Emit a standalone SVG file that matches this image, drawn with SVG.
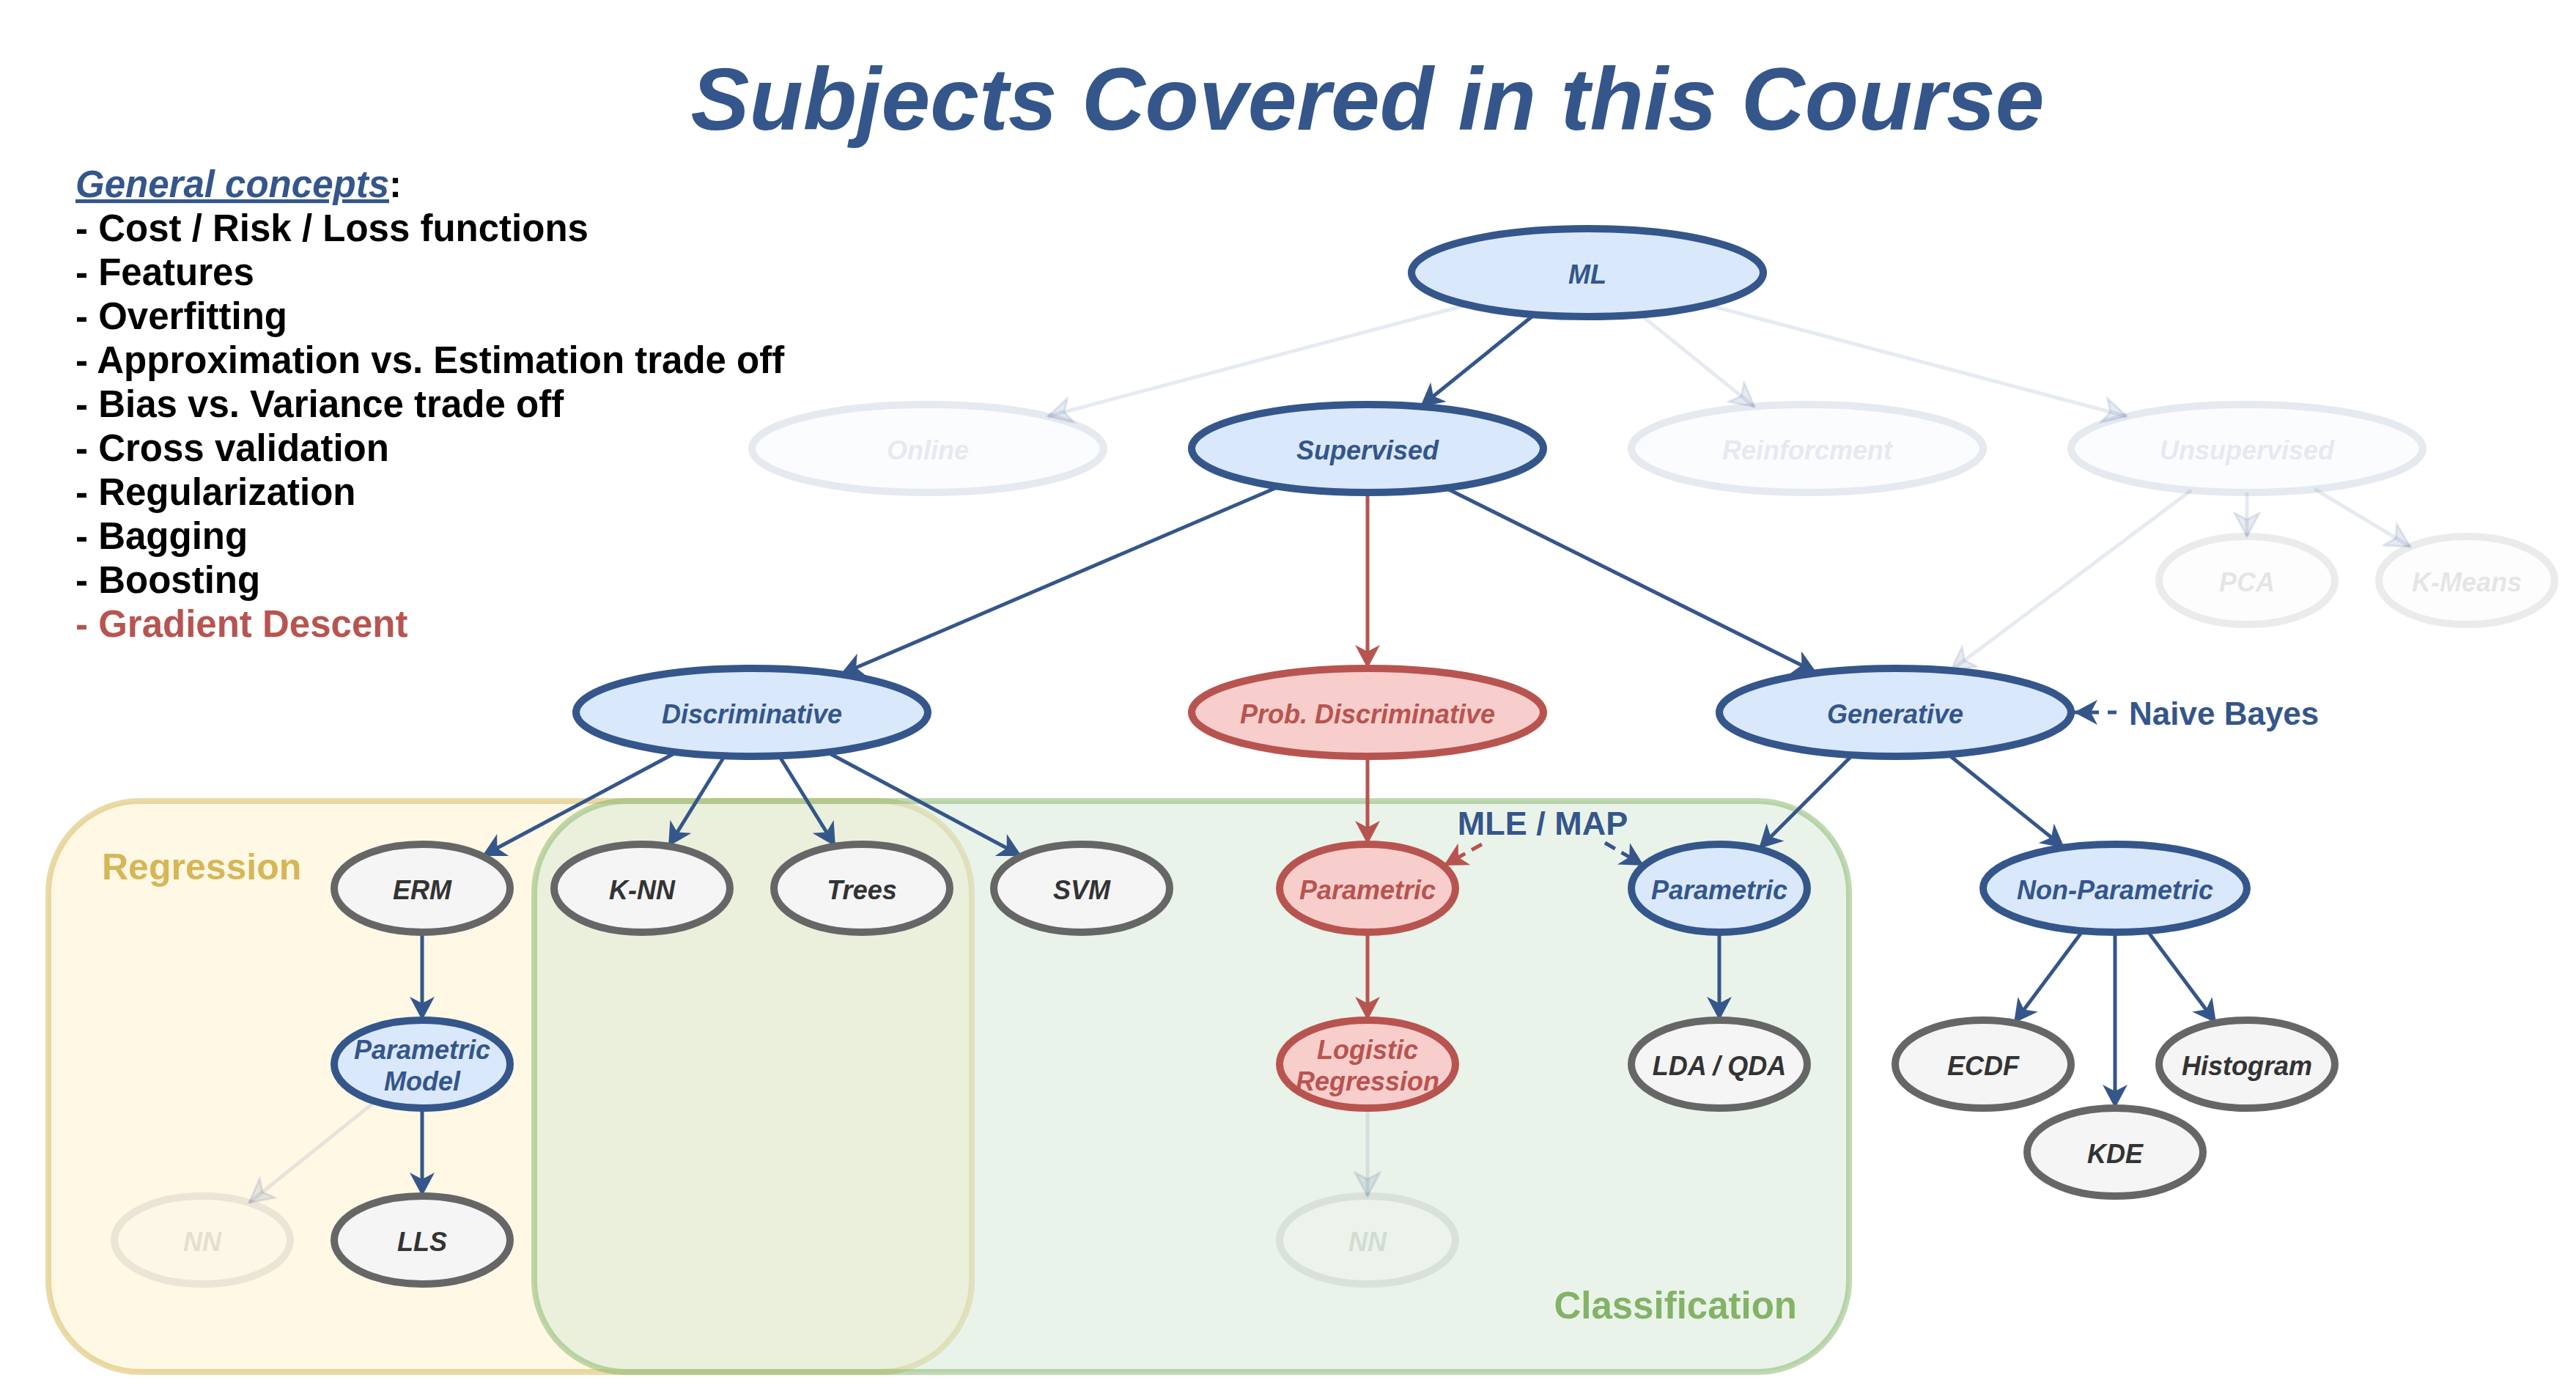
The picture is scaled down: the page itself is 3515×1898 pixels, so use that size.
<svg xmlns="http://www.w3.org/2000/svg" width="3515" height="1898" viewBox="0 0 3515 1898">
<style>
text{font-family:"Liberation Sans",Arial,sans-serif;font-weight:bold}
.lbl{font-size:36px;font-style:italic;text-anchor:middle}
.nb{fill:#DAE8FC;stroke:#34568B;stroke-width:10}
.nr{fill:#F8CECC;stroke:#B85450;stroke-width:10}
.ng{fill:#F5F5F5;stroke:#666666;stroke-width:10}
.tb{fill:#34568B}
.tr{fill:#B85450}
.tg{fill:#333333}
.faded{opacity:0.12}
.e{fill:none;stroke:#34568B;stroke-width:5;marker-end:url(#ab)}
.er{fill:none;stroke:#B85450;stroke-width:5;marker-end:url(#ar)}
.ef{fill:none;stroke:#34568B;stroke-opacity:0.12;stroke-width:5;marker-end:url(#af)}
.dash{stroke-dasharray:16 10}
.gc{font-size:51px;fill:#000000}
</style>
<defs>
<marker id="ab" viewBox="0 0 34 34" refX="32" refY="17" markerWidth="34" markerHeight="34" orient="auto" markerUnits="userSpaceOnUse"><path d="M0,0 L32,17 L0,34 L9,17 Z" fill="#34568B"/></marker>
<marker id="ar" viewBox="0 0 34 34" refX="32" refY="17" markerWidth="34" markerHeight="34" orient="auto" markerUnits="userSpaceOnUse"><path d="M0,0 L32,17 L0,34 L9,17 Z" fill="#B85450"/></marker>
<marker id="af" viewBox="-2 -2 38 38" refX="32" refY="17" markerWidth="38" markerHeight="38" orient="auto" markerUnits="userSpaceOnUse"><path d="M0,0 L32,17 L0,34 L9,17 Z" fill="#34568B" fill-opacity="0.12" stroke="#34568B" stroke-opacity="0.12" stroke-width="3"/></marker>
</defs>
<rect x="0" y="0" width="3515" height="1898" fill="#FFFFFF"/>

<text x="1866" y="177" font-size="120" font-style="italic" text-anchor="middle" fill="#34568B">Subjects Covered in this Course</text>

<g id="general-concepts">
<text x="103" y="269" class="gc"><tspan font-style="italic" fill="#34568B" text-decoration="underline">General concepts</tspan>:</text>
<text x="103" y="329" class="gc">- Cost / Risk / Loss functions</text>
<text x="103" y="389" class="gc">- Features</text>
<text x="103" y="449" class="gc">- Overfitting</text>
<text x="103" y="509" class="gc">- Approximation vs. Estimation trade off</text>
<text x="103" y="569" class="gc">- Bias vs. Variance trade off</text>
<text x="103" y="629" class="gc">- Cross validation</text>
<text x="103" y="689" class="gc">- Regularization</text>
<text x="103" y="749" class="gc">- Bagging</text>
<text x="103" y="809" class="gc">- Boosting</text>
<text x="103" y="869" class="gc" style="fill:#B85450">- Gradient Descent</text>
</g>

<g id="region-regression">
<rect x="66" y="1093" width="1260" height="779" rx="125" ry="125" fill="#FFF2CC" fill-opacity="0.5" stroke="#D6B656" stroke-opacity="0.5" stroke-width="8"/>
<text x="139" y="1200" font-size="50" fill="#D6B656">Regression</text>
</g>
<g id="region-classification">
<rect x="729" y="1093" width="1794" height="779" rx="125" ry="125" fill="#D5E8D4" fill-opacity="0.5" stroke="#82B366" stroke-opacity="0.5" stroke-width="8"/>
<text x="2452" y="1799" font-size="51" fill="#82B366" text-anchor="end">Classification</text>
</g>

<g id="connectors">
<path class="e" d="M2094,429 L1938,555"/>
<path class="ef" d="M2002,416 L1430,568"/>
<path class="ef" d="M2238,429 L2394,555"/>
<path class="ef" d="M2330,416 L2902,568"/>
<path class="ef" d="M3066,672 L3066,732"/>
<path class="ef" d="M3158,667 L3289,746"/>
<path class="ef" d="M2990,669 L2662,915"/>
<path class="e" d="M1745,664 L1147,920"/>
<path class="er" d="M1866,672 L1866,912"/>
<path class="e" d="M1973,666 L2479,918"/>
<path class="e" d="M924,1026 L658,1168"/>
<path class="e" d="M989,1031 L912,1155"/>
<path class="e" d="M1063,1031 L1140,1155"/>
<path class="e" d="M1128,1026 L1394,1168"/>
<path class="er" d="M1866,1032 L1866,1152"/>
<path class="er" d="M1866,1272 L1866,1392"/>
<path class="ef" d="M1866,1512 L1866,1632"/>
<path class="e" d="M2528,1030 L2400,1158"/>
<path class="e" d="M2658,1029 L2817,1157"/>
<path class="e" d="M2346,1272 L2346,1392"/>
<path class="e" d="M576,1272 L576,1392"/>
<path class="e" d="M576,1512 L576,1632"/>
<path class="ef" d="M512,1503 L340,1641"/>
<path class="e" d="M2842,1270 L2748,1396"/>
<path class="e" d="M2886,1272 L2886,1512"/>
<path class="e" d="M2930,1270 L3024,1396"/>
<path class="er dash" d="M2022,1152 L1970,1181"/>
<path class="e dash" d="M2190,1150 L2243,1181"/>
<path class="e" style="stroke-dasharray:12 12" d="M2888,972 L2830,972"/>
<text x="2105" y="1139" font-size="45" fill="#34568B" text-anchor="middle">MLE / MAP</text>
<text x="2905" y="989" font-size="44" fill="#34568B">Naive Bayes</text>
</g>

<g id="n-ml"><ellipse class="nb" cx="2166" cy="372" rx="240" ry="60"/><text class="lbl tb" x="2166" y="387">ML</text></g>
<g id="n-online" class="faded"><ellipse class="nb" cx="1266" cy="612" rx="240" ry="60"/><text class="lbl tb" x="1266" y="627">Online</text></g>
<g id="n-supervised"><ellipse class="nb" cx="1866" cy="612" rx="240" ry="60"/><text class="lbl tb" x="1866" y="627">Supervised</text></g>
<g id="n-reinforcement" class="faded"><ellipse class="nb" cx="2466" cy="612" rx="240" ry="60"/><text class="lbl tb" x="2466" y="627">Reinforcment</text></g>
<g id="n-unsupervised" class="faded"><ellipse class="nb" cx="3066" cy="612" rx="240" ry="60"/><text class="lbl tb" x="3066" y="627">Unsupervised</text></g>
<g id="n-pca" class="faded"><ellipse class="ng" cx="3066" cy="792" rx="120" ry="60"/><text class="lbl tg" x="3066" y="807">PCA</text></g>
<g id="n-kmeans" class="faded"><ellipse class="ng" cx="3366" cy="792" rx="120" ry="60"/><text class="lbl tg" x="3366" y="807">K-Means</text></g>
<g id="n-discriminative"><ellipse class="nb" cx="1026" cy="972" rx="240" ry="60"/><text class="lbl tb" x="1026" y="987">Discriminative</text></g>
<g id="n-probdisc"><ellipse class="nr" cx="1866" cy="972" rx="240" ry="60"/><text class="lbl tr" x="1866" y="987">Prob. Discriminative</text></g>
<g id="n-generative"><ellipse class="nb" cx="2586" cy="972" rx="240" ry="60"/><text class="lbl tb" x="2586" y="987">Generative</text></g>
<g id="n-erm"><ellipse class="ng" cx="576" cy="1212" rx="120" ry="60"/><text class="lbl tg" x="576" y="1227">ERM</text></g>
<g id="n-knn"><ellipse class="ng" cx="876" cy="1212" rx="120" ry="60"/><text class="lbl tg" x="876" y="1227">K-NN</text></g>
<g id="n-trees"><ellipse class="ng" cx="1176" cy="1212" rx="120" ry="60"/><text class="lbl tg" x="1176" y="1227">Trees</text></g>
<g id="n-svm"><ellipse class="ng" cx="1476" cy="1212" rx="120" ry="60"/><text class="lbl tg" x="1476" y="1227">SVM</text></g>
<g id="n-param-red"><ellipse class="nr" cx="1866" cy="1212" rx="120" ry="60"/><text class="lbl tr" x="1866" y="1227">Parametric</text></g>
<g id="n-param-blue"><ellipse class="nb" cx="2346" cy="1212" rx="120" ry="60"/><text class="lbl tb" x="2346" y="1227">Parametric</text></g>
<g id="n-nonparam"><ellipse class="nb" cx="2886" cy="1212" rx="180" ry="60"/><text class="lbl tb" x="2886" y="1227">Non-Parametric</text></g>
<g id="n-parammodel"><ellipse class="nb" cx="576" cy="1452" rx="120" ry="60"/><text class="lbl tb" x="576" y="1445">Parametric</text><text class="lbl tb" x="576" y="1488">Model</text></g>
<g id="n-logreg"><ellipse class="nr" cx="1866" cy="1452" rx="120" ry="60"/><text class="lbl tr" x="1866" y="1445">Logistic</text><text class="lbl tr" x="1866" y="1488">Regression</text></g>
<g id="n-lda"><ellipse class="ng" cx="2346" cy="1452" rx="120" ry="60"/><text class="lbl tg" x="2346" y="1467">LDA / QDA</text></g>
<g id="n-ecdf"><ellipse class="ng" cx="2706" cy="1452" rx="120" ry="60"/><text class="lbl tg" x="2706" y="1467">ECDF</text></g>
<g id="n-histogram"><ellipse class="ng" cx="3066" cy="1452" rx="120" ry="60"/><text class="lbl tg" x="3066" y="1467">Histogram</text></g>
<g id="n-kde"><ellipse class="ng" cx="2886" cy="1572" rx="120" ry="60"/><text class="lbl tg" x="2886" y="1587">KDE</text></g>
<g id="n-nn-reg" class="faded"><ellipse class="ng" cx="276" cy="1692" rx="120" ry="60"/><text class="lbl tg" x="276" y="1707">NN</text></g>
<g id="n-lls"><ellipse class="ng" cx="576" cy="1692" rx="120" ry="60"/><text class="lbl tg" x="576" y="1707">LLS</text></g>
<g id="n-nn-cls" class="faded"><ellipse class="ng" cx="1866" cy="1692" rx="120" ry="60"/><text class="lbl tg" x="1866" y="1707">NN</text></g>
</svg>
